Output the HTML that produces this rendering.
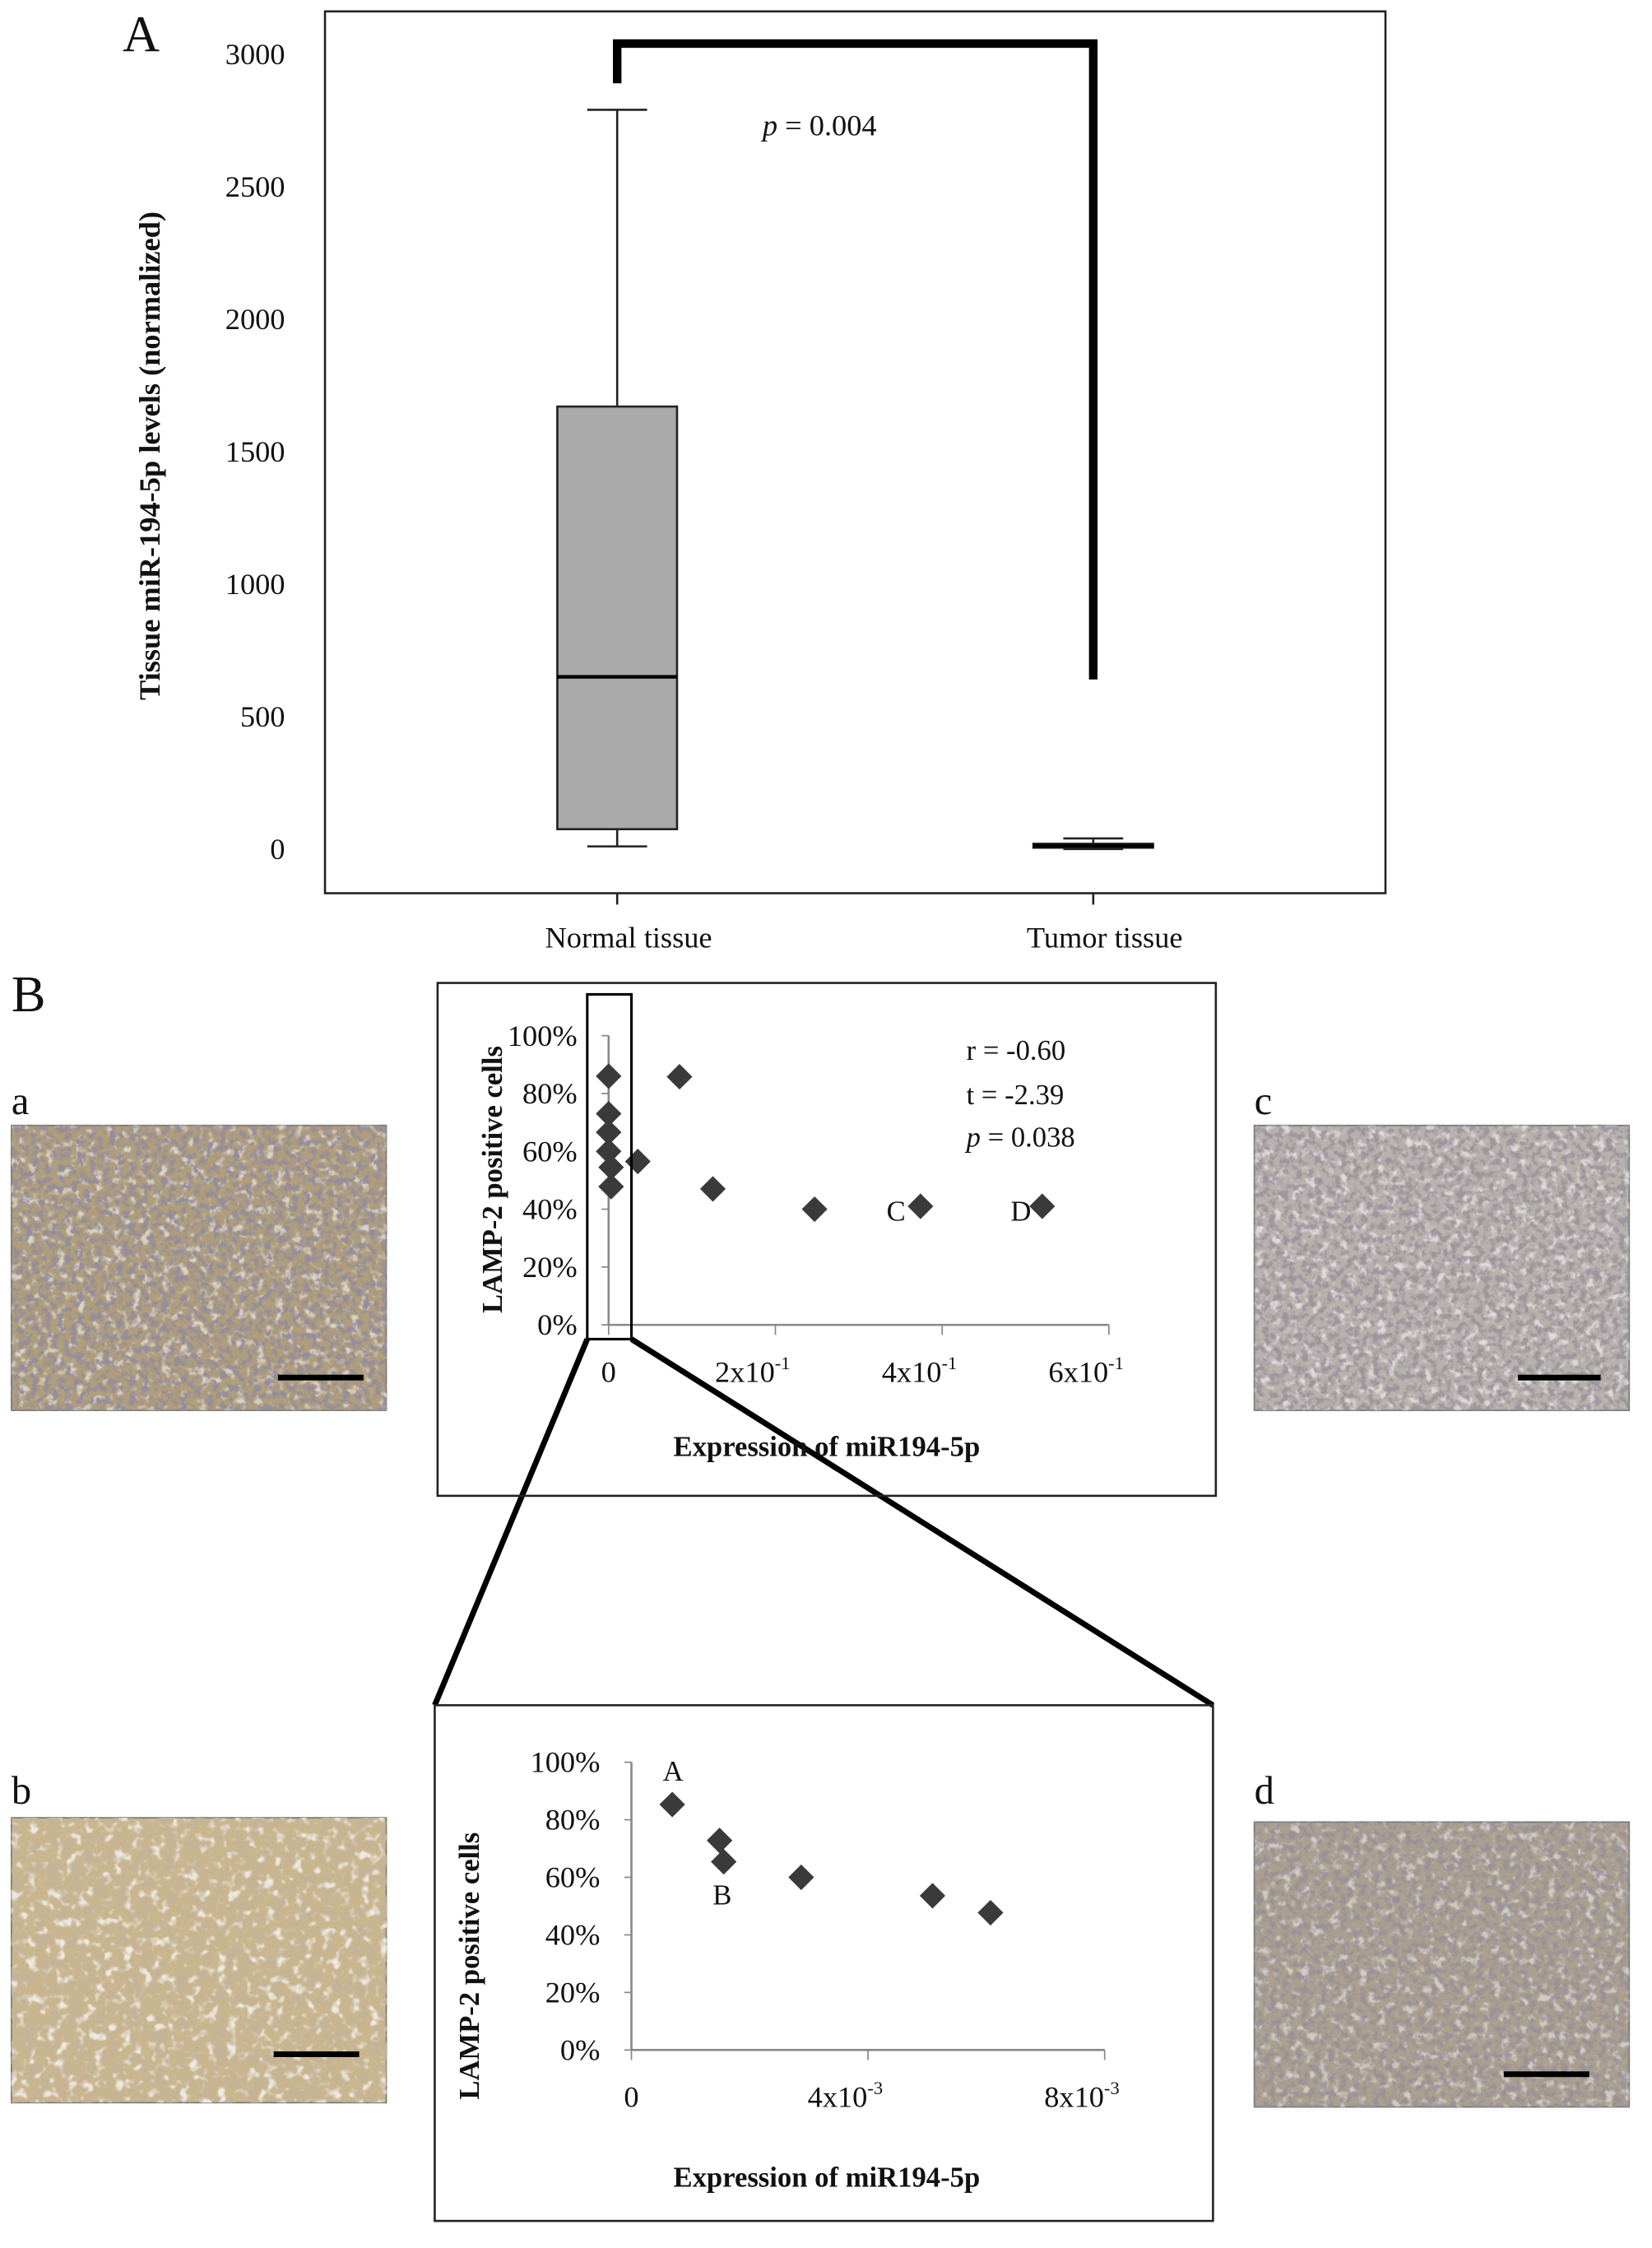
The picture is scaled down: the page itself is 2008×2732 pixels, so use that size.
<!DOCTYPE html>
<html><head><meta charset="utf-8"><style>
html,body{margin:0;padding:0;background:#fff;}
svg{display:block;}
text{font-family:"Liberation Serif",serif;fill:#111;}
</style></head><body>
<svg id="fig" width="2008" height="2732" viewBox="0 0 1159 1578" preserveAspectRatio="none" xmlns="http://www.w3.org/2000/svg">
<defs>
<filter id="tex1" x="0" y="0" width="100%" height="100%"><feTurbulence type="fractalNoise" baseFrequency="0.22" numOctaves="3" seed="3"/><feColorMatrix type="matrix" values="0 0 0 0 0.30  0 0 0 0 0.27  0 0 0 0 0.32  0 0 0 -4 2.3"/></filter>
<filter id="tex3" x="0" y="0" width="100%" height="100%"><feTurbulence type="fractalNoise" baseFrequency="0.15" numOctaves="2" seed="11"/><feColorMatrix type="matrix" values="0 0 0 0 0.92  0 0 0 0 0.92  0 0 0 0 0.94  0 0 0 -5 2.4"/></filter>
<filter id="tex2" x="0" y="0" width="100%" height="100%"><feTurbulence type="fractalNoise" baseFrequency="0.12" numOctaves="2" seed="7"/><feColorMatrix type="matrix" values="0 0 0 0 0.55  0 0 0 0 0.45  0 0 0 0 0.30  0 0 0 -4 2.2"/></filter>
</defs>
<rect width="1159" height="1578" fill="#fff"/>

<g id="panelA">
<text x="86" y="36" font-size="36">A</text>
<rect x="228" y="8" width="744" height="619" fill="none" stroke="#222" stroke-width="1.5"/>
<g id="aTicks"></g>
<text transform="translate(112,320) rotate(-90)" text-anchor="middle" font-size="21" font-weight="bold">Tissue miR-194-5p levels (normalized)</text>
<g id="aBoxes"></g>
<text x="535" y="95" font-size="21"><tspan font-style="italic">p</tspan> = 0.004</text>
</g>

<text x="8" y="710" font-size="36">B</text>

<g>
<text x="8" y="782" font-size="28">a</text>
<rect x="8" y="790" width="263" height="200" fill="#b09d7a" stroke="#777"/>
<rect x="8" y="790" width="263" height="200" filter="url(#tex3)" opacity="0.6"/>
<rect x="8" y="790" width="263" height="200" filter="url(#tex1)"/>
<rect x="195" y="965" width="60" height="4" fill="#000"/>
</g>
<g>
<text x="8" y="1266" font-size="28">b</text>
<rect x="8" y="1276" width="263" height="200" fill="#c9b58e" stroke="#777"/>
<rect x="8" y="1276" width="263" height="200" filter="url(#tex3)" opacity="0.8"/>
<rect x="8" y="1276" width="263" height="200" filter="url(#tex2)"/>
<rect x="192" y="1440" width="60" height="4" fill="#000"/>
</g>
<g>
<text x="880" y="782" font-size="28">c</text>
<rect x="880" y="790" width="263" height="200" fill="#b8b2ac" stroke="#777"/>
<rect x="880" y="790" width="263" height="200" filter="url(#tex3)" opacity="0.6"/>
<rect x="880" y="790" width="263" height="200" filter="url(#tex1)" opacity="0.8"/>
<rect x="1065" y="965" width="58" height="4" fill="#000"/>
</g>
<g>
<text x="880" y="1266" font-size="28">d</text>
<rect x="880" y="1279" width="263" height="200" fill="#aba08e" stroke="#777"/>
<rect x="880" y="1279" width="263" height="200" filter="url(#tex3)" opacity="0.5"/>
<rect x="880" y="1279" width="263" height="200" filter="url(#tex1)" opacity="0.8"/>
<rect x="1055" y="1454" width="60" height="4" fill="#000"/>
</g>

<line x1="412" y1="940" x2="305" y2="1197" stroke="#000" stroke-width="4"/>
<line x1="443" y1="940" x2="851" y2="1197" stroke="#000" stroke-width="4"/>

<g id="scatterTop">
<rect x="307" y="690" width="546" height="360" fill="none" stroke="#222" stroke-width="1.5"/>
<text transform="translate(352,828) rotate(-90)" text-anchor="middle" font-size="20" font-weight="bold">LAMP-2 positive cells</text>
<text x="580" y="1022" text-anchor="middle" font-size="20" font-weight="bold">Expression of miR194-5p</text>
<text x="678" y="744" font-size="20">r = -0.60</text>
<text x="678" y="775" font-size="20">t = -2.39</text>
<text x="678" y="805" font-size="20"><tspan font-style="italic">p</tspan> = 0.038</text>
<text x="622" y="857" font-size="20">C</text>
<text x="709" y="857" font-size="20">D</text>
<g id="topAxes"></g><g id="topPts"></g>
<rect x="412" y="698" width="31" height="242" fill="none" stroke="#000" stroke-width="1.8"/>
</g>

<g id="scatterBot">
<rect x="305" y="1197" width="546" height="362" fill="none" stroke="#222" stroke-width="1.5"/>
<text transform="translate(336,1380) rotate(-90)" text-anchor="middle" font-size="20" font-weight="bold">LAMP-2 positive cells</text>
<text x="580" y="1535" text-anchor="middle" font-size="20" font-weight="bold">Expression of miR194-5p</text>
<text x="465" y="1250" font-size="20">A</text>
<text x="500" y="1337" font-size="20">B</text>
<g id="botAxes"></g><g id="botPts"></g>
</g>
</svg>
<script>
const aTickVals = [0, 500, 1000, 1500, 2000, 2500, 3000];
const aGroups = ["Normal tissue", "Tumor tissue"];
const aMin = [10, 0];
const aQ1 = [75, 5];
const aMedian = [650, 12];
const aQ3 = [1670, 20];
const aMax = [2790, 40];
const aBracketLeft = 2890;
const aBracketTop = 3040;
const aBracketRight = 640;

const topX = [0, 0.085, 0, 0, 0, 0.003, 0.003, 0.035, 0.125, 0.247, 0.374, 0.52];
const topY = [86, 85.8, 73, 66.6, 60, 54.5, 47.8, 56.5, 47, 40, 41, 41];
const topYTicks = [0, 20, 40, 60, 80, 100];
const topXTicks = [0, 0.2, 0.4, 0.6];
const topXLabels = ["0", "2x10", "4x10", "6x10"];
const topXExp = ["", "-1", "-1", "-1"];

const botX = [0.00069, 0.00149, 0.00156, 0.00287, 0.00509, 0.00607];
const botY = [85.3, 72.8, 65.4, 60, 53.6, 47.7];
const botYTicks = [0, 20, 40, 60, 80, 100];
const botXTicks = [0, 0.004, 0.008];
const botXLabels = ["0", "4x10", "8x10"];
const botXExp = ["", "-3", "-3"];

const NS = "http://www.w3.org/2000/svg";
function mk(tag, attrs, parent, txt) {
  const e = document.createElementNS(NS, tag);
  for (const k in attrs) e.setAttribute(k, attrs[k]);
  if (txt !== undefined) e.textContent = txt;
  parent.appendChild(e);
  return e;
}

const ay = v => 596 - v * (558 / 3000);
const ax = i => [433, 767][i];
const aT = document.getElementById("aTicks");
aTickVals.forEach(v => {
  const t = mk("text", {x: 200, y: ay(v) + 7, "text-anchor": "end", "font-size": 21}, aT, String(v));
  
  
});
const aB = document.getElementById("aBoxes");
aGroups.forEach((g, i) => {
  const cx = ax(i);
  const tk = mk("line", {x1: cx, y1: 627, x2: cx, y2: 635, stroke: "#222", "stroke-width": 1.5}, aB);
  
  
  const lb = mk("text", {x: cx + 8, y: 665, "text-anchor": "middle", "font-size": 21}, aB, g);
  
  
  const w1 = mk("line", {x1: cx, y1: ay(aMax[i]), x2: cx, y2: ay(aMin[i]), stroke: "#222", "stroke-width": 1.5}, aB);
  
  
  [aMax[i], aMin[i]].forEach(v => {
    const c = mk("line", {x1: cx - 21, y1: ay(v), x2: cx + 21, y2: ay(v), stroke: "#222", "stroke-width": 1.5}, aB);
    
    
  });
  const bx = mk("rect", {x: cx - 42, y: ay(aQ3[i]), width: 84, height: Math.max(2, ay(aQ1[i]) - ay(aQ3[i])), fill: "#aaa", stroke: "#222", "stroke-width": 1.5}, aB);
  
  
  const md = mk("line", {x1: cx - 42, y1: ay(aMedian[i]), x2: cx + 42, y2: ay(aMedian[i]), stroke: "#000", "stroke-width": 2.5}, aB);
  
  
});
const br = mk("polyline", {points: `${ax(0)},${ay(aBracketLeft)} ${ax(0)},${ay(aBracketTop)} ${ax(1)},${ay(aBracketTop)} ${ax(1)},${ay(aBracketRight)}`, fill: "none", stroke: "#000", "stroke-width": 6}, aB);



function scatter(gAx, gPt, xs, ys, yT, xT, xL, xE, x0, x1, xMax, y0, y1) {
  const sx = v => x0 + (v / xMax) * (x1 - x0);
  const sy = v => y0 - (v / 100) * (y0 - y1);
  const yl = mk("line", {x1: x0, y1: sy(0), x2: x0, y2: sy(100), stroke: "#888", "stroke-width": 1.5}, gAx);
  
  
  const xl = mk("line", {x1: x0, y1: sy(0), x2: x1, y2: sy(0), stroke: "#888", "stroke-width": 1.5}, gAx);
  
  
  yT.forEach(v => {
    const t = mk("line", {x1: x0 - 5, y1: sy(v), x2: x0, y2: sy(v), stroke: "#888"}, gAx);
    
    
    const l = mk("text", {x: x0 - 22, y: sy(v) + 7, "text-anchor": "end", "font-size": 21}, gAx, v + "%");
    
    
  });
  xT.forEach((v, i) => {
    const t = mk("line", {x1: sx(v), y1: sy(0), x2: sx(v), y2: sy(0) + 7, stroke: "#888"}, gAx);
    
    
    const l = mk("text", {x: sx(v) - (i ? 16 : 0), y: sy(0) + 40, "text-anchor": "middle", "font-size": 21}, gAx);
    
    
    l.textContent = xL[i];
    if (xE[i]) { mk("tspan", {"font-size": 13, dy: -9}, l, xE[i]); }
  });
  xs.forEach((v, i) => {
    const cx = sx(v), cy = sy(ys[i]);
    const p = mk("polygon", {points: `${cx},${cy - 9} ${cx + 9},${cy} ${cx},${cy + 9} ${cx - 9},${cy}`, fill: "#3a3a3a"}, gPt);
    
    
  });
}
scatter(document.getElementById("topAxes"), document.getElementById("topPts"), topX, topY, topYTicks, topXTicks, topXLabels, topXExp, 427, 778, 0.6, 930, 727);
scatter(document.getElementById("botAxes"), document.getElementById("botPts"), botX, botY, botYTicks, botXTicks, botXLabels, botXExp, 443, 775, 0.008, 1439, 1237);
</script>
</body></html>
